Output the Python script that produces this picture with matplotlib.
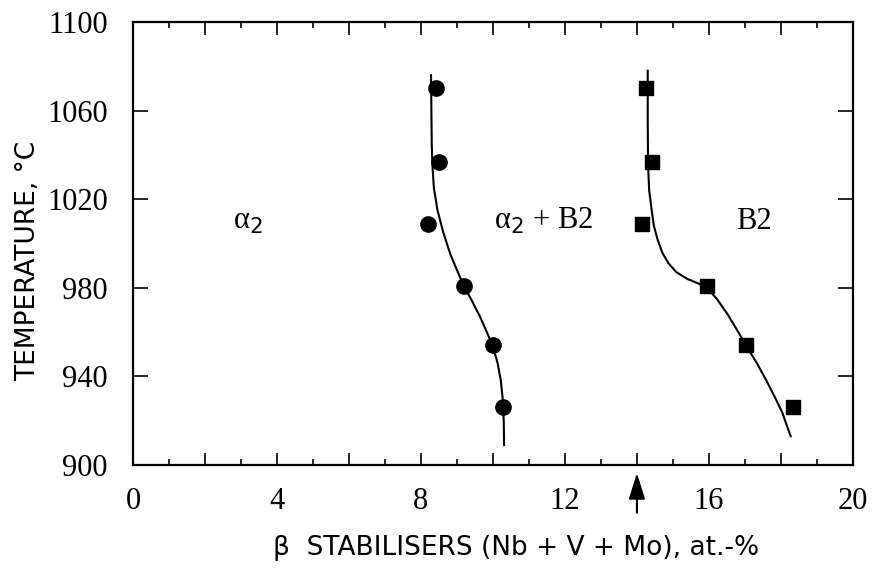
import matplotlib
matplotlib.use("Agg")
import matplotlib.pyplot as plt
from matplotlib.ticker import FixedLocator

# measured points, alpha2 / alpha2+B2 boundary (circles)
circ_x = [8.43, 8.51, 8.20, 9.19, 9.99, 10.29]
circ_t = [1070, 1037, 1009, 981, 954, 926]

# alpha2+B2 / B2 boundary (squares)
sq_x = [14.24, 14.43, 14.13, 15.94, 17.03, 18.34]
sq_t = [1070, 1037, 1009, 981, 954, 926]

# hand drawn boundary lines
line1_x = [8.28, 8.29, 8.30, 8.32, 8.36, 8.46, 8.62, 8.82, 9.00, 9.19, 9.42, 9.64,
           9.83, 9.99, 10.13, 10.22, 10.27, 10.30, 10.31]
line1_t = [1076, 1060, 1045, 1035, 1025, 1015, 1005, 995, 988, 981, 974, 967,
           960, 954, 946, 938, 930, 920, 909]
line2_x = [14.30, 14.30, 14.31, 14.34, 14.41, 14.47, 14.57, 14.70, 14.88, 15.10, 15.40,
           15.70, 15.94, 16.22, 16.52, 16.78, 17.03, 17.33, 17.60, 17.85, 18.03, 18.16, 18.27]
line2_t = [1078, 1055, 1035, 1024, 1015, 1008, 1002, 996, 991, 987, 984,
           982, 980, 975, 968, 961, 954, 946, 938, 930, 924, 918, 913]

x_ticks = [0, 2, 4, 6, 8, 10, 12, 14, 16, 18, 20]
x_ticklabels = ['0', '', '4', '', '8', '', '12', '', '16', '', '20']
y_ticks = [900, 940, 980, 1020, 1060, 1100]

fig = plt.figure(figsize=(8.73, 5.69), dpi=100)
ax = fig.add_axes([0.1523, 0.1828, 0.8247, 0.7785])

ax.plot(line1_x, line1_t, color='black', lw=1.5)
ax.plot(line2_x, line2_t, color='black', lw=1.5)
ax.plot(circ_x, circ_t, 'o', color='black', ms=11)
ax.plot(sq_x, sq_t, 's', color='black', ms=10)

ax.set_xlim(0, 20)
ax.set_ylim(900, 1100)

ax.xaxis.set_major_locator(FixedLocator(x_ticks))
ax.xaxis.set_minor_locator(FixedLocator([1, 3, 5, 7, 9, 11, 13, 15, 17, 19]))
ax.yaxis.set_major_locator(FixedLocator(y_ticks))
ax.set_xticklabels(x_ticklabels)
ax.tick_params(axis='both', which='both', direction='in', top=True, right=True, width=1.2)
ax.tick_params(axis='x', which='major', length=9, labelsize=22, pad=16)
ax.tick_params(axis='x', which='minor', length=4)
ax.tick_params(axis='y', which='major', length=11, labelsize=22, pad=18)
for lbl in ax.get_xticklabels() + ax.get_yticklabels():
    lbl.set_family('Liberation Serif')
for s in ax.spines.values():
    s.set_linewidth(1.6)

ax.text(3.2, 1010, r'$\mathregular{\alpha}_2$', fontsize=22, family='Liberation Serif', ha='center', va='center')
ax.text(11.4, 1010, r'$\mathregular{\alpha}_2$ + B2', fontsize=22, family='Liberation Serif', ha='center', va='center')
ax.text(17.25, 1010, 'B2', fontsize=22, family='Liberation Serif', ha='center', va='center')

# axis titles
ax.text(0.532, -0.187, 'β  STABILISERS (Nb + V + Mo), at.-%', transform=ax.transAxes,
        fontsize=19, family='DejaVu Sans', ha='center', va='center')
ax.text(-0.146, 0.46, 'TEMPERATURE, °C', transform=ax.transAxes, rotation=90,
        fontsize=19, family='DejaVu Sans', ha='center', va='center')

# arrow marking 14 at.-%
ax.annotate('', xy=(14, -0.018), xytext=(14, -0.108), xycoords=('data', 'axes fraction'),
            textcoords=('data', 'axes fraction'),
            arrowprops=dict(arrowstyle='-|>,head_length=0.8,head_width=0.25',
                            color='black', lw=1.5, mutation_scale=20,
                            shrinkA=0, shrinkB=0))

fig.savefig('out.png', dpi=100)
